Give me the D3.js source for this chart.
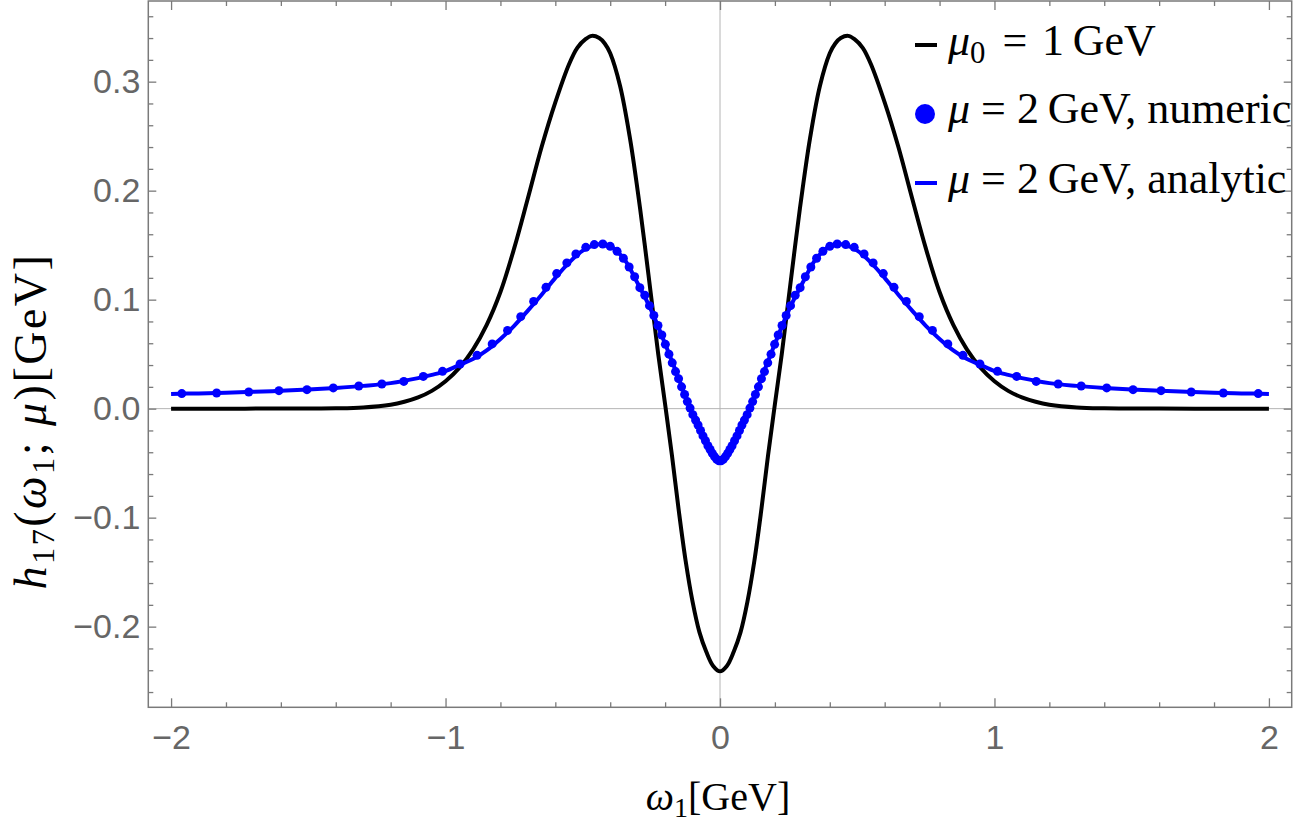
<!DOCTYPE html>
<html><head><meta charset="utf-8">
<script src="https://cdn.jsdelivr.net/npm/d3@7"></script>
<style>body{margin:0;background:#fff}</style>
</head><body>
<svg id="c" width="1295" height="825"></svg>
<script>
// ---------------- data ----------------
const xMajorTicks = [-2, -1, 0, 1, 2];
const xTickLabels = ["\u22122", "\u22121", "0", "1", "2"];
const yMajorTicks = [-0.2, -0.1, 0, 0.1, 0.2, 0.3];
const yTickLabels = ["\u22120.2", "\u22120.1", "0.0", "0.1", "0.2", "0.3"];

// mu0 = 1 GeV (black)
const omegaBlack = [-2.0,-1.8,-1.6,-1.5,-1.4,-1.3,-1.2,-1.15,-1.1,-1.05,-1.0,-0.95,-0.9,-0.85,-0.8,-0.75,-0.7,-0.65,-0.6,-0.55,-0.52,-0.49,-0.467,-0.44,-0.42,-0.4,-0.364,-0.328,-0.3,-0.275,-0.25,-0.225,-0.2,-0.175,-0.15,-0.125,-0.1,-0.075,-0.05,-0.025,0,
  0.025,0.05,0.075,0.1,0.125,0.15,0.175,0.2,0.225,0.25,0.275,0.3,0.328,0.364,0.4,0.42,0.44,0.467,0.49,0.52,0.55,0.6,0.65,0.7,0.75,0.8,0.85,0.9,0.95,1.0,1.05,1.1,1.15,1.2,1.3,1.4,1.5,1.6,1.8,2.0];
const hBlack = [0.0,0.0,0.00005,0.0001,0.0003,0.0011,0.0036,0.0063,0.0103,0.0163,0.0251,0.0374,0.0542,0.0769,0.107,0.147,0.193,0.240,0.281,0.316,0.331,0.339,0.342,0.340,0.335,0.326,0.296,0.248,0.200,0.152,0.101,0.050,0.004,-0.043,-0.094,-0.140,-0.177,-0.205,-0.223,-0.236,-0.241,
  -0.236,-0.223,-0.205,-0.177,-0.140,-0.094,-0.043,0.004,0.050,0.101,0.152,0.200,0.248,0.296,0.326,0.335,0.340,0.342,0.339,0.331,0.316,0.281,0.240,0.193,0.147,0.107,0.0769,0.0542,0.0374,0.0251,0.0163,0.0103,0.0063,0.0036,0.0011,0.0003,0.0001,0.00005,0.0,0.0];

// mu = 2 GeV, numeric (blue dots)
const omegaNum = [-1.961,-1.834,-1.717,-1.607,-1.505,-1.409,-1.316,-1.232,-1.152,-1.081,-1.011,-0.947,-0.885,-0.830,-0.774,-0.726,-0.679,-0.634,-0.595,-0.558,-0.525,-0.489,-0.458,-0.427,-0.400,-0.375,-0.352,-0.331,-0.311,-0.292,-0.274,-0.257,-0.241,-0.226,-0.212,-0.199,-0.186,-0.174,-0.162,-0.151,-0.140,-0.129,-0.119,-0.109,-0.099,-0.089,-0.080,-0.071,-0.062,-0.053,-0.044,-0.036,-0.028,-0.020,-0.012,-0.004,
  0.004,0.012,0.020,0.028,0.036,0.044,0.053,0.062,0.071,0.080,0.089,0.099,0.109,0.119,0.129,0.140,0.151,0.162,0.174,0.186,0.199,0.212,0.226,0.241,0.257,0.274,0.292,0.311,0.331,0.352,0.375,0.400,0.427,0.458,0.489,0.525,0.558,0.595,0.634,0.679,0.726,0.774,0.830,0.885,0.947,1.011,1.081,1.152,1.232,1.316,1.409,1.505,1.607,1.717,1.834,1.961];
const hNum = [0.0138,0.0144,0.0153,0.0165,0.0174,0.0190,0.0208,0.0226,0.0250,0.0296,0.0342,0.0410,0.0489,0.0594,0.0718,0.0844,0.0984,0.1113,0.1239,0.1337,0.1419,0.1480,0.1505,0.1511,0.1489,0.1443,0.1380,0.1300,0.1210,0.1110,0.1040,0.0945,0.0855,0.0763,0.0676,0.0590,0.0500,0.0420,0.0340,0.0275,0.0200,0.0130,0.0065,0.0005,-0.0055,-0.0105,-0.0150,-0.0200,-0.0250,-0.0295,-0.0340,-0.0375,-0.0410,-0.0440,-0.0465,-0.0478,
  -0.0478,-0.0465,-0.0440,-0.0410,-0.0375,-0.0340,-0.0295,-0.0250,-0.0200,-0.0150,-0.0105,-0.0055,0.0005,0.0065,0.0130,0.0200,0.0275,0.0340,0.0420,0.0500,0.0590,0.0676,0.0763,0.0855,0.0945,0.1040,0.1110,0.1210,0.1300,0.1380,0.1443,0.1489,0.1511,0.1505,0.1480,0.1419,0.1337,0.1239,0.1113,0.0984,0.0844,0.0718,0.0594,0.0489,0.0410,0.0342,0.0296,0.0250,0.0226,0.0208,0.0190,0.0174,0.0165,0.0153,0.0144,0.0138];

// mu = 2 GeV, analytic (blue line)
const omegaAna = [-2.0,-1.9,-1.8,-1.7,-1.6,-1.5,-1.4,-1.3,-1.2,-1.1,-1.05,-1.0,-0.95,-0.9,-0.85,-0.8,-0.75,-0.7,-0.65,-0.6,-0.55,-0.5,-0.45,-0.425,-0.4,-0.35,-0.3,-0.25,-0.2,-0.15,-0.1,-0.07,-0.05,-0.03,-0.01,0,
  0.01,0.03,0.05,0.07,0.1,0.15,0.2,0.25,0.3,0.35,0.4,0.425,0.45,0.5,0.55,0.6,0.65,0.7,0.75,0.8,0.85,0.9,0.95,1.0,1.05,1.1,1.2,1.3,1.4,1.5,1.6,1.7,1.8,1.9,2.0];
const hAna = [0.0135,0.0140,0.0146,0.0154,0.0164,0.0175,0.0190,0.0209,0.0234,0.0280,0.0310,0.0345,0.0400,0.0455,0.0535,0.0640,0.0760,0.0900,0.1045,0.1200,0.1340,0.1450,0.1505,0.1510,0.1490,0.1375,0.1150,0.0900,0.0595,0.0275,-0.0050,-0.0205,-0.0305,-0.0400,-0.0470,-0.0480,
  -0.0470,-0.0400,-0.0305,-0.0205,-0.0050,0.0275,0.0595,0.0900,0.1150,0.1375,0.1490,0.1510,0.1505,0.1450,0.1340,0.1200,0.1045,0.0900,0.0760,0.0640,0.0535,0.0455,0.0400,0.0345,0.0310,0.0280,0.0234,0.0209,0.0190,0.0175,0.0164,0.0154,0.0146,0.0140,0.0135];

// ---------------- chart ----------------
const svg = d3.select("#c");
const L = 148.3, R = 1291.7, T = 1, B = 707.3;
const x = d3.scaleLinear().domain([-2.083, 2.083]).range([L, R]);
const y = d3.scaleLinear().domain([-0.274, 0.374]).range([B, T]);

const frameColor = "#7a7a7a";
const tickFont = '"Liberation Sans", Arial, sans-serif';
const mathFont = '"Liberation Serif", "Times New Roman", serif';

// zero grid lines
svg.append("line").attr("x1", x(0)).attr("x2", x(0)).attr("y1", T).attr("y2", B)
  .attr("stroke", "#b4b4b4").attr("stroke-width", 1);
svg.append("line").attr("x1", L).attr("x2", R).attr("y1", y(0)).attr("y2", y(0))
  .attr("stroke", "#b4b4b4").attr("stroke-width", 1);

// curves
const clip = svg.append("defs").append("clipPath").attr("id", "clp");
clip.append("rect").attr("x", L).attr("y", T).attr("width", R - L).attr("height", B - T);
const plot = svg.append("g").attr("clip-path", "url(#clp)");

const line = d3.line().x(d => x(d[0])).y(d => y(d[1])).curve(d3.curveCatmullRom.alpha(0.5));

plot.append("path").datum(omegaBlack.map((w, i) => [w, hBlack[i]]))
  .attr("d", line).attr("fill", "none").attr("stroke", "#000").attr("stroke-width", 4);

plot.append("path").datum(omegaAna.map((w, i) => [w, hAna[i]]))
  .attr("d", line).attr("fill", "none").attr("stroke", "#0000ff").attr("stroke-width", 4);

plot.selectAll("circle.num").data(omegaNum.map((w, i) => [w, hNum[i]])).enter()
  .append("circle").attr("class", "num")
  .attr("cx", d => x(d[0])).attr("cy", d => y(d[1])).attr("r", 4.5).attr("fill", "#0000ff");

// axes / frame ticks
const xMinor = d3.range(-2, 2.0001, 0.2).map(v => +v.toFixed(2)).filter(v => Math.abs(v - Math.round(v)) > 1e-6);
const yMinor = d3.range(-0.26, 0.3601, 0.02).map(v => +v.toFixed(2)).filter(v => Math.abs(v * 10 - Math.round(v * 10)) > 1e-6);

function styleAxis(g) {
  g.select(".domain").remove();
  g.selectAll(".tick line").attr("stroke", frameColor).attr("stroke-width", 1.3);
  g.selectAll(".tick text").attr("fill", "#666").attr("font-family", tickFont).attr("font-size", 34);
}

// bottom
svg.append("g").attr("transform", `translate(0,${B})`)
  .call(d3.axisBottom(x).tickValues(xMajorTicks).tickSize(-9).tickPadding(18)
    .tickFormat((d, i) => xTickLabels[i])).call(styleAxis);
svg.append("g").attr("transform", `translate(0,${B})`)
  .call(d3.axisBottom(x).tickValues(xMinor).tickSize(-5).tickFormat("")).call(styleAxis);
// top
svg.append("g").attr("transform", `translate(0,${T})`)
  .call(d3.axisTop(x).tickValues(xMajorTicks).tickSize(-9).tickFormat("")).call(styleAxis);
svg.append("g").attr("transform", `translate(0,${T})`)
  .call(d3.axisTop(x).tickValues(xMinor).tickSize(-5).tickFormat("")).call(styleAxis);
// left
svg.append("g").attr("transform", `translate(${L},0)`)
  .call(d3.axisLeft(y).tickValues(yMajorTicks).tickSize(-8).tickPadding(8)
    .tickFormat((d, i) => yTickLabels[i])).call(styleAxis);
svg.append("g").attr("transform", `translate(${L},0)`)
  .call(d3.axisLeft(y).tickValues(yMinor).tickSize(-5).tickFormat("")).call(styleAxis);
// right
svg.append("g").attr("transform", `translate(${R},0)`)
  .call(d3.axisRight(y).tickValues(yMajorTicks).tickSize(-8).tickFormat("")).call(styleAxis);
svg.append("g").attr("transform", `translate(${R},0)`)
  .call(d3.axisRight(y).tickValues(yMinor).tickSize(-5).tickFormat("")).call(styleAxis);

// frame
svg.append("rect").attr("x", L).attr("y", T).attr("width", R - L).attr("height", B - T)
  .attr("fill", "none").attr("stroke", frameColor).attr("stroke-width", 1.5);

// rich text helper
function rich(parent, parts, size) {
  const t = parent.append("text").attr("font-family", mathFont).attr("font-size", size).attr("fill", "#000");
  let shifted = 0;
  parts.forEach(p => {
    const ts = t.append("tspan").text(p.t);
    if (p.i) ts.attr("font-style", "italic");
    if (p.dx) ts.attr("dx", p.dx);
    if (p.sub) {
      ts.attr("font-size", size * 0.7).attr("dy", size * 0.18);
      shifted = size * 0.18;
    } else if (shifted) {
      ts.attr("dy", -shifted);
      shifted = 0;
    }
  });
  return t;
}

// axis labels
rich(svg.append("g").attr("transform", `translate(718,810)`),
  [{t: "\u03c9", i: 1}, {t: "1", sub: 1}, {t: "[GeV]"}], 40).attr("text-anchor", "middle");

rich(svg.append("g").attr("transform", `translate(46,421) rotate(-90)`),
  [{t: "h", i: 1}, {t: "17", sub: 1}, {t: "("}, {t: "\u03c9", i: 1}, {t: "1", sub: 1}, {t: "; "}, {t: "\u03bc", i: 1}, {t: ")[GeV]"}], 46)
  .attr("text-anchor", "middle").attr("letter-spacing", 2.5);

// legend
const lg = svg.append("g");
lg.append("line").attr("x1", 915).attr("x2", 937).attr("y1", 45).attr("y2", 45).attr("stroke", "#000").attr("stroke-width", 4);
lg.append("circle").attr("cx", 925).attr("cy", 114).attr("r", 10).attr("fill", "#0000ff");
lg.append("line").attr("x1", 915).attr("x2", 937).attr("y1", 183).attr("y2", 183).attr("stroke", "#0000ff").attr("stroke-width", 4);
rich(lg.append("g").attr("transform", "translate(948,55)"),
  [{t: "\u03bc", i: 1}, {t: "0", sub: 1}, {t: " = \u200a1\u2009GeV", dx: 6}], 44);
rich(lg.append("g").attr("transform", "translate(948,123)"),
  [{t: "\u03bc", i: 1}, {t: " = 2\u2009GeV, numeric"}], 44);
rich(lg.append("g").attr("transform", "translate(948,193)"),
  [{t: "\u03bc", i: 1}, {t: " = 2\u2009GeV, analytic"}], 44);
</script></body></html>
